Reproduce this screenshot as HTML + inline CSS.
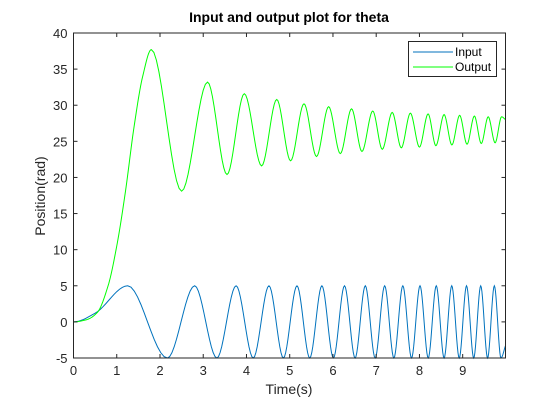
<!DOCTYPE html>
<html><head><meta charset="utf-8"><style>
body{margin:0;background:#fff;width:560px;height:403px;overflow:hidden}
svg text{font-family:"Liberation Sans",sans-serif}
</style></head><body>
<svg id="c" width="560" height="403">
<rect x="0" y="0" width="560" height="403" fill="#fff"/>
<g id="plot"></g>
</svg>
<script>
const inputT=[0,0.5,1.253,2.171,2.802,3.316,3.760,4.157,4.520,4.854,5.168,5.463,5.744,6.011,6.267,6.512,6.748,6.976,7.196,7.409,7.616,7.817,8.013,8.203,8.389,8.570,8.747,8.920,9.089,9.255,9.417,9.576,9.732,9.885,9.99];
const inputV=[0,1.2,5,-5,5,-5,5,-5,5,-5,5,-5,5,-5,5,-5,5,-5,5,-5,5,-5,5,-5,5,-5,5,-5,5,-5,5,-5,5,-5,-3.3];
const outputT=[0,0.3,0.55,0.8,1.0,1.2,1.4,1.6,1.8,2.5,3.1,3.55,3.95,4.35,4.7,5.02,5.33,5.62,5.9,6.17,6.43,6.67,6.92,7.14,7.37,7.58,7.79,8.0,8.2,8.38,8.57,8.75,8.93,9.1,9.27,9.43,9.59,9.75,9.9,9.99];
const outputV=[0,0.3,1.3,5,10.5,18,27,34,37.7,18.1,33.2,20.4,31.6,21.6,30.8,22.3,30.2,22.9,29.8,23.3,29.5,23.6,29.2,23.9,29.0,24.1,28.9,24.2,28.8,24.4,28.7,24.5,28.6,24.6,28.5,24.7,28.4,24.8,28.4,28.0];
const xTicks=[0,1,2,3,4,5,6,7,8,9];
const yTicks=[-5,0,5,10,15,20,25,30,35,40];
const X0=73.5,X1=505.5,Y0=358,Y1=33,xmin=0,xmax=9.99,ymin=-5,ymax=40;
const sx=v=>X0+(v-xmin)/(xmax-xmin)*(X1-X0);
const sy=v=>Y0-(v-ymin)/(ymax-ymin)*(Y0-Y1);
const NS='http://www.w3.org/2000/svg',g=document.getElementById('plot');
function mk(t,a){const e=document.createElementNS(NS,t);for(const k in a)e.setAttribute(k,a[k]);g.appendChild(e);return e;}
function mono(T,V){const n=T.length,d=[],m=[];for(let i=0;i<n-1;i++)d.push((V[i+1]-V[i])/(T[i+1]-T[i]));
m[0]=0;m[n-1]=d[n-2];for(let i=1;i<n-1;i++){m[i]=(d[i-1]*d[i]<=0)?0:2/(1/d[i-1]+1/d[i]);}
let p='M'+sx(T[0]).toFixed(2)+','+sy(V[0]).toFixed(2);
for(let i=0;i<n-1;i++){const h=T[i+1]-T[i];for(let k=1;k<=12;k++){const s=k/12,s2=s*s,s3=s2*s;
const v=(2*s3-3*s2+1)*V[i]+(s3-2*s2+s)*h*m[i]+(-2*s3+3*s2)*V[i+1]+(s3-s2)*h*m[i+1];
p+='L'+sx(T[i]+s*h).toFixed(2)+','+sy(v).toFixed(2);}}return p;}
let e=mk('path',{d:mono(inputT,inputV),fill:'none',stroke:'#0072bd','stroke-width':1});

e=mk('path',{d:mono(outputT,outputV),fill:'none',stroke:'#00ff00','stroke-width':1});

e=mk('rect',{x:X0,y:Y1,width:X1-X0,height:Y0-Y1,fill:'none',stroke:'#262626','stroke-width':1});

xTicks.forEach(t=>{const x=sx(t);
e=mk('line',{x1:x,x2:x,y1:Y0,y2:Y0-4,stroke:'#262626'});
e=mk('line',{x1:x,x2:x,y1:Y1,y2:Y1+4,stroke:'#262626'});
e=mk('text',{x:x,y:Y0+17,'text-anchor':'middle','font-size':13,fill:'#262626'});e.textContent=t;
});
yTicks.forEach(t=>{const y=sy(t);
e=mk('line',{x1:X0,x2:X0+4,y1:y,y2:y,stroke:'#262626'});
e=mk('line',{x1:X1,x2:X1-4,y1:y,y2:y,stroke:'#262626'});
e=mk('text',{x:X0-6,y:y+5,'text-anchor':'end','font-size':13,fill:'#262626'});e.textContent=t;
});
e=mk('text',{x:289,y:22,'text-anchor':'middle','font-size':14,'font-weight':'bold',fill:'#000'});e.textContent='Input and output plot for theta';

e=mk('text',{x:289,y:394,'text-anchor':'middle','font-size':14,fill:'#262626'});e.textContent='Time(s)';

e=mk('text',{x:0,y:0,'text-anchor':'middle','font-size':14,fill:'#262626',transform:'translate(45,196) rotate(-90)'});e.textContent='Position(rad)';

e=mk('rect',{x:408.5,y:41.5,width:88,height:35,fill:'#fff',stroke:'#262626'});

[['Input','#0072bd',52],['Output','#00ff00',67]].forEach(([n,c,y])=>{
e=mk('line',{x1:413,x2:453,y1:y,y2:y,stroke:c});
e=mk('text',{x:455,y:y+4,'font-size':12,fill:'#000'});e.textContent=n;
});
</script>
</body></html>
